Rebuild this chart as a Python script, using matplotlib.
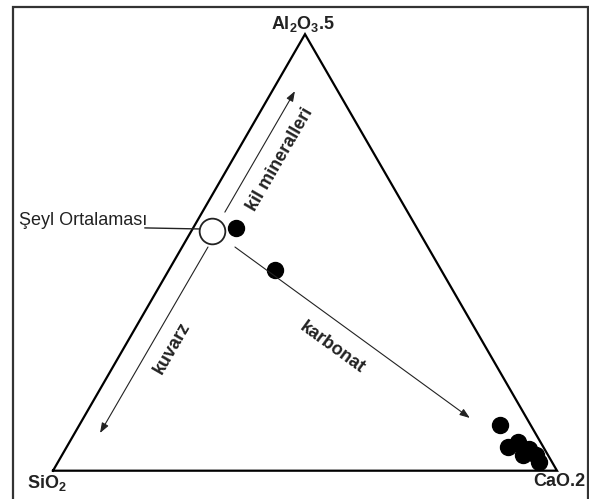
import numpy as np
import matplotlib.pyplot as plt
from matplotlib.patches import Rectangle

plt.rcParams['font.family'] = ['Liberation Sans', 'DejaVu Sans']
plt.rcParams['mathtext.fontset'] = 'custom'
plt.rcParams['mathtext.bf'] = 'Liberation Sans:bold'
plt.rcParams['mathtext.rm'] = 'Liberation Sans:bold'
plt.rcParams['mathtext.default'] = 'bf'

# bilesimler (%): SiO2, Al2O3.5, CaO.2
seyl_sio2, seyl_al, seyl_cao = 41, 55, 4
sio2 = [36, 33, 6, 7, 4.5, 5, 3, 2.5, 2.5, 3.5]
al2o3 = [55.5, 46, 10.5, 5.5, 6.5, 3.5, 5, 3.5, 2, 4.5]
cao = [8.5, 21, 83.5, 87.5, 89, 91.5, 92, 94, 95.5, 92]

kose_etiket = ['SiO$_2$', 'CaO.2', 'Al$_2$O$_3$.5']
h = np.sqrt(3) / 2


def tern(s, a, c):
    s, a, c = np.asarray(s, float), np.asarray(a, float), np.asarray(c, float)
    t = s + a + c
    return c / t + a / t / 2, a / t * h


fig = plt.figure(figsize=(5.89, 4.99), dpi=100)
# cerceve
fig.patches.append(Rectangle((13 / 589, -0.05), 575 / 589, 1.05 - 7 / 499,
                             transform=fig.transFigure, fill=False,
                             edgecolor='#333333', linewidth=1.6))

ax = fig.add_axes([53 / 589, 28.3 / 499, 504 / 589, 436.5 / 499])
ax.set_xlim(0, 1)
ax.set_ylim(0, h)
ax.axis('off')

# ucgen
ax.plot([0, 1, 0.5, 0], [0, 0, h, 0], color='black', lw=1.6, clip_on=False,
        solid_joinstyle='miter')

kw = dict(fontsize=13, fontweight='bold', color='#222222')
ax.text(-0.0516, -0.0244, kose_etiket[0], ha='left', va='center', **kw)
ax.text(1.057, -0.0224, kose_etiket[1], ha='right', va='center', **kw)
ax.text(0.496, 0.887, kose_etiket[2], ha='center', va='center', **kw)

# oklar
ok = dict(arrowstyle='-|>,head_length=0.6,head_width=0.22', color='#222222',
          lw=0.8, shrinkA=0, shrinkB=0)
ax.annotate('', xy=(0.480, 0.753), xytext=(0.341, 0.513), arrowprops=ok)
ax.annotate('', xy=(0.0933, 0.0748), xytext=(0.3075, 0.4438), arrowprops=ok)
ax.annotate('', xy=(0.827, 0.1046), xytext=(0.361, 0.4438), arrowprops=ok)

ax.text(0.450, 0.618, 'kil mineralleri', rotation=60, ha='center', va='center',
        rotation_mode='anchor', **kw)
ax.text(0.236, 0.243, 'kuvarz', rotation=60, ha='center', va='center',
        rotation_mode='anchor', **kw)
ax.text(0.554, 0.245, 'karbonat', rotation=-36, ha='center', va='center',
        rotation_mode='anchor', **kw)

# seyl ortalamasi
ax.plot([0.1825, 0.2917], [0.4817, 0.4796], color='#222222', lw=1.0,
        clip_on=False)
ax.text(0.1865, 0.497, 'Şeyl Ortalaması', ha='right', va='center',
        fontsize=13, color='#222222', clip_on=False)
x0, y0 = tern(seyl_sio2, seyl_al, seyl_cao)
ax.plot(x0, y0, 'o', ms=18.5, mfc='white', mec='#222222', mew=1.3,
        clip_on=False)

x, y = tern(sio2, al2o3, cao)
ax.plot(x, y, 'o', ms=11.5, color='black', ls='none', clip_on=False)

fig.savefig('out.png', dpi=100, facecolor='white')
